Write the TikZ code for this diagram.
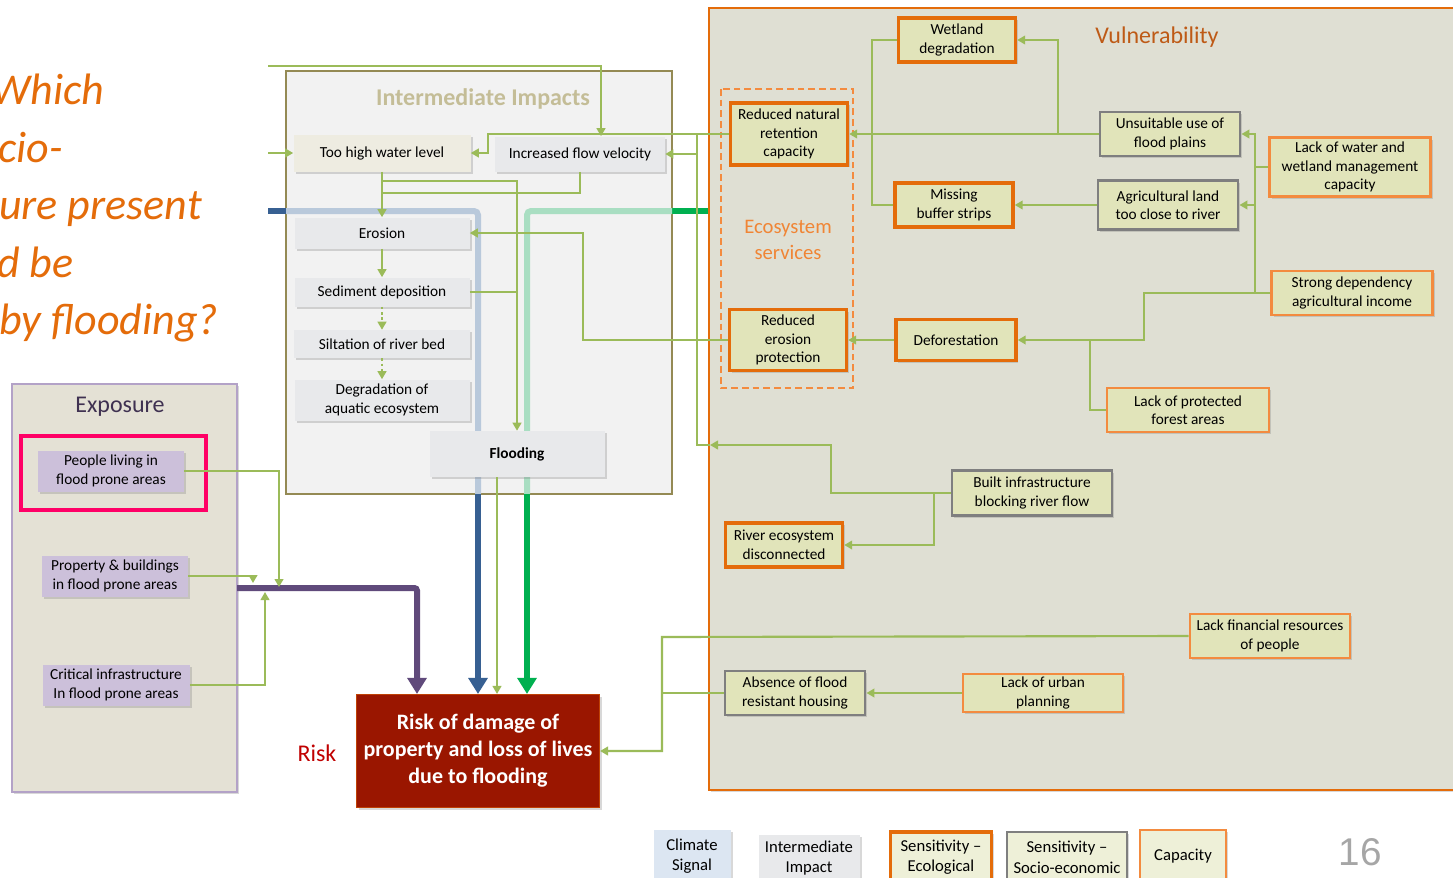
\documentclass[tikz,border=0pt]{standalone}
\usepackage{fontspec}
\setmainfont{Carlito}
\newfontfamily\slidenumfont{Liberation Sans}
\usetikzlibrary{arrows.meta,shadows}

\definecolor{linkgreen}{HTML}{9BBB59}
\definecolor{impactolive}{HTML}{948A54}
\definecolor{impactbg}{HTML}{F2F2F2}
\definecolor{impacttitle}{HTML}{C4BD97}
\definecolor{impactgray}{HTML}{E8E9EB}
\definecolor{waterbeige}{HTML}{EEECE1}
\definecolor{vulnbg}{HTML}{DFDFD3}
\definecolor{vulnfill}{HTML}{E1E4BA}
\definecolor{ecoorange}{HTML}{E46C0A}
\definecolor{caporange}{HTML}{F38B3F}
\definecolor{socgray}{HTML}{7F7F7F}
\definecolor{vulntitle}{HTML}{BE5A16}
\definecolor{servicesorange}{HTML}{F08535}
\definecolor{expobg}{HTML}{E4E1D5}
\definecolor{expoborder}{HTML}{B3A2C7}
\definecolor{expotitle}{HTML}{3F3151}
\definecolor{expolilac}{HTML}{CCC0DA}
\definecolor{highlightpink}{HTML}{FF0066}
\definecolor{riskred}{HTML}{9A1600}
\definecolor{risklabel}{HTML}{C00000}
\definecolor{climatedark}{HTML}{376092}
\definecolor{climatelight}{HTML}{B9C9DB}
\definecolor{ecodark}{HTML}{00B050}
\definecolor{ecolight}{HTML}{A9DEC2}
\definecolor{expopurple}{HTML}{604A7B}
\definecolor{questionorange}{HTML}{E46C0A}
\definecolor{climatefill}{HTML}{DCE6F2}
\definecolor{legendfill}{HTML}{EEF0D8}
\definecolor{pagegray}{HTML}{A6A6A6}

\begin{document}
\begin{tikzpicture}[x=0.75pt, y=-0.75pt,
  every node/.style={font=\fontsize{11.5}{13.9}\selectfont, align=center, inner sep=0pt},
  boxsize/.style 2 args={minimum width=#1*0.75pt, minimum height=#2*0.75pt},
  softshadow/.style={drop shadow={opacity=0.3, shadow xshift=1.8pt, shadow yshift=-1.8pt}},
  impactbox/.style={fill=impactgray, softshadow},
  ecobox/.style={fill=vulnfill, draw=ecoorange, line width=2.6pt, softshadow},
  socbox/.style={fill=vulnfill, draw=socgray, line width=2.2pt, softshadow},
  capbox/.style={fill=vulnfill, draw=caporange, line width=2.2pt, softshadow},
  expobox/.style={fill=expolilac, softshadow},
  legendtext/.style={font=\fontsize{12.5}{15.5}\selectfont},
  question/.style={anchor=base west, text=questionorange, font=\itshape\fontsize{33}{43}\selectfont},
  link/.style={draw=linkgreen, line width=1.6pt},
  conn/.style={link, -{Triangle[length=6pt, width=6.5pt]}},
  dotconn/.style={conn, dash pattern=on 2pt off 2pt},
  bigarrow/.style={line width=4.5pt, rounded corners=2pt, -{Triangle[length=12pt, width=14pt]}}]

  \fill[white] (0,0) rectangle (1453,878);
  \useasboundingbox (0,0) rectangle (1453,878);

  \node[question] (qline1) at (-9,104) {Which};
  \node[question] (qline2) at (-2,162) {cio-};
  \node[question] (qline3) at (-1,219) {ure present};
  \node[question] (qline4) at (-3,277) {d be};
  \node[question] (qline5) at (-1,334) {by flooding?};

  \draw[draw=expoborder, fill=expobg, line width=1.2pt, softshadow] (12,384) rectangle (237,792);
  \node[text=expotitle, font=\fontsize{18}{21}\selectfont] (expotitle) at (120,407) {Exposure};

  \draw[draw=impactolive, fill=impactbg, line width=2.2pt] (286,71) rectangle (672,494);
  \node[text=impacttitle, font=\bfseries\fontsize{18}{21}\selectfont] (impacttitle) at (483,99) {Intermediate Impacts};

  \draw[draw=ecoorange, fill=vulnbg, line width=1.2pt, softshadow] (709,8) rectangle (1475,790);
  \node[text=vulntitle, font=\fontsize{18}{21}\selectfont] (vulntitle) at (1157,37) {Vulnerability};
  \draw[draw=caporange, line width=2pt, dash pattern=on 5pt off 3pt] (721,89) rectangle (853,388);
  \node[text=servicesorange, font=\fontsize{15.5}{19}\selectfont] (services) at (788,240) {Ecosystem\\services};

  \node[fill=riskred, draw=ecoorange!50!riskred, line width=0.8pt, boxsize={243}{113}, text=white,
        font=\bfseries\fontsize{16.5}{20.25}\selectfont, softshadow] (risk) at (478,751)
        {Risk of damage of\\property and loss of lives\\due to flooding};
  \node[text=risklabel, font=\fontsize{18}{21}\selectfont] (risklabel) at (317,753) {Risk};

  \coordinate (bluestart) at (268,211);
  \coordinate (blueentry) at (286,211);
  \coordinate (bluebend) at (478,494);
  \coordinate (greenstart) at (708,211);
  \coordinate (greenentry) at (672,211);
  \coordinate (greenbend) at (527,494);
  \coordinate (purplestart) at (237,588);
  \coordinate (purpledrop) at (417,588);
  \draw[climatedark, line width=4.5pt] (bluestart) -- (blueentry);
  \draw[climatelight, line width=4.5pt, rounded corners=3pt] (blueentry) -| (bluebend);
  \draw[climatedark, bigarrow] (bluebend) -- (bluebend |- risk.north);
  \draw[ecodark, line width=4.5pt] (greenstart) -- (greenentry);
  \draw[ecolight, line width=4.5pt, rounded corners=3pt] (greenentry) -| (greenbend);
  \draw[ecodark, bigarrow] (greenbend) -- (greenbend |- risk.north);
  \draw[expopurple, bigarrow] (purplestart) -- (purpledrop) -- (purpledrop |- risk.north);

  \node[impactbox, fill=waterbeige, boxsize={177}{37}] (toohigh) at (382,153) {Too high water level};
  \node[impactbox, boxsize={170}{35}] (increased) at (580,154) {Increased flow velocity};
  \node[impactbox, boxsize={175}{31}] (erosion) at (382,233) {Erosion};
  \node[impactbox, boxsize={175}{29}] (sediment) at (382,292) {Sediment deposition};
  \node[impactbox, boxsize={176}{28}] (siltation) at (382,344) {Siltation of river bed};
  \node[impactbox, boxsize={175}{41}] (degradation) at (382,400) {Degradation of\\aquatic ecosystem};
  \node[impactbox, boxsize={175}{46}, font=\bfseries\fontsize{11.5}{13.9}\selectfont] (flooding) at (517,454) {Flooding};

  \node[ecobox, boxsize={117}{62}] (retention) at (789,134) {Reduced natural\\retention\\capacity};
  \node[ecobox, boxsize={117}{61}] (erosionprot) at (788,340) {Reduced\\erosion\\protection};
  \node[ecobox, boxsize={117}{44}] (wetland) at (957,40) {Wetland\\degradation};
  \node[ecobox, boxsize={118}{44}] (buffer) at (954,205) {Missing\\buffer strips};
  \node[ecobox, boxsize={120}{41}] (deforest) at (956,340) {Deforestation};
  \node[socbox, boxsize={140}{44}] (unsuitable) at (1170,134) {Unsuitable use of\\flood plains};
  \node[socbox, boxsize={140}{49}] (agri) at (1168,205) {Agricultural land\\too close to river};
  \node[capbox, boxsize={161}{59}] (lackwater) at (1350,167) {Lack of water and\\wetland management\\capacity};
  \node[capbox, boxsize={161}{44}] (strongdep) at (1352,293) {Strong dependency\\agricultural income};
  \node[capbox, boxsize={162}{44}] (forest) at (1188,410) {Lack of protected\\forest areas};
  \node[socbox, boxsize={160}{45}] (built) at (1032,493) {Built infrastructure\\blocking river flow};
  \node[ecobox, boxsize={117}{44}] (riverdisc) at (784,545) {River ecosystem\\disconnected};
  \node[capbox, boxsize={160}{44}] (financial) at (1270,636) {Lack financial resources\\of people};
  \node[socbox, boxsize={140}{44}] (absence) at (795,693) {Absence of flood\\resistant housing};
  \node[capbox, boxsize={160}{38}] (urban) at (1043,693) {Lack of urban\\planning};

  \node[expobox, boxsize={146}{41}] (people) at (111,471) {People living in\\flood prone areas};
  \node[expobox, boxsize={146}{41}] (property) at (115,576) {Property \& buildings\\in flood prone areas};
  \node[expobox, boxsize={147}{41}] (critical) at (116,685) {Critical infrastructure\\In flood prone areas};
  \draw[highlightpink, line width=3.2pt] (21,436) rectangle (206,510);

  \coordinate (topfeed) at (268,66);
  \coordinate (sidefeed) at (268,153);
  \coordinate (velin) at ([xshift=15.75pt]increased.north);
  \coordinate (retbend) at (488,134);
  \coordinate (velbus) at (697,134);
  \coordinate (builtbend) at (831,445);
  \coordinate (vulnedge) at (710,445);
  \coordinate (riverbend) at (934,493);
  \coordinate (erobus) at (583,233);
  \coordinate (floodbus) at (517,181);
  \coordinate (erojoin) at (382,193);
  \coordinate (floodout) at ([xshift=-15pt]flooding.south);
  \draw[conn] (topfeed) -| (velin);
  \draw[conn] (sidefeed) -- (toohigh.west);
  \draw[conn] (retention.west) -- (retbend) |- (toohigh.east);
  \draw[conn] (velbus) |- (increased.east);
  \draw[conn] (built.west) -| (builtbend) -- (vulnedge);
  \draw[link] (vulnedge) -| (velbus);
  \draw[conn] (riverbend) |- (riverdisc.east);
  \draw[conn] (erosionprot.west) -| (erobus) -- (erosion.east);
  \draw[conn] (toohigh.south) -- (erosion.north);
  \draw[conn] (toohigh.south |- floodbus) -| (flooding.north);
  \draw[link] (increased.south) |- (erojoin);
  \draw[link] (sediment.east) -- (sediment.east -| flooding.north);
  \draw[conn] (erosion.south) -- (sediment.north);
  \draw[dotconn] (sediment.south) -- (siltation.north);
  \draw[dotconn] (siltation.south) -- (degradation.north);
  \draw[conn] (floodout) -- (floodout |- risk.north);

  \coordinate (wetbus) at (1058,134);
  \coordinate (bufbus) at (872,134);
  \coordinate (capbus) at (1255,167);
  \coordinate (forestbend) at (1144,293);
  \coordinate (forestjoin) at (1090,340);
  \coordinate (riskbus) at (662,637);
  \draw[conn] (unsuitable.west) -- (retention.east);
  \draw[conn] (wetbus) |- (wetland.east);
  \draw[link] (wetland.west) -| (bufbus) |- (buffer.west);
  \draw[conn] (agri.west) -- (buffer.east);
  \draw[conn] (lackwater.west) -- (capbus) |- (unsuitable.east);
  \draw[conn] (capbus) |- (agri.east);
  \draw[link] (strongdep.west) -| (capbus);
  \draw[conn] (strongdep.west) -- (forestbend) |- (deforest.east);
  \draw[link] (forest.west) -| (forestjoin);
  \draw[conn] (deforest.west) -- (erosionprot.east);
  \draw[conn] (urban.west) -- (absence.east);
  \draw[conn] (financial.west) -- (riskbus) |- (risk.east);
  \draw[link] (absence.west) -- (absence.west -| riskbus);

  \coordinate (peopledrop) at (279,587);
  \coordinate (propdrop) at (253,583);
  \coordinate (critrise) at (265,592);
  \draw[conn] (people.east) -| (peopledrop);
  \draw[conn] (property.east) -| (propdrop);
  \draw[conn] (critical.east) -| (critrise);

  \node[fill=climatefill, boxsize={77}{52}, legendtext, softshadow] (legclimate) at (692,856) {Climate\\Signal};
  \node[fill=impactgray, boxsize={101}{46}, legendtext, softshadow] (legimpact) at (809,858) {Intermediate\\Impact};
  \node[fill=legendfill, draw=ecoorange, line width=2.6pt, boxsize={101}{50}, legendtext, softshadow] (legeco) at (941,857) {Sensitivity --\\Ecological};
  \node[fill=legendfill, draw=socgray, line width=2.2pt, boxsize={120}{50}, legendtext, softshadow] (legsocio) at (1067,857) {Sensitivity --\\Socio-economic};
  \node[fill=legendfill, draw=caporange, line width=2.2pt, boxsize={86}{52}, legendtext, softshadow] (legcap) at (1183,856) {Capacity};
  \node[text=pagegray, font=\slidenumfont\fontsize{29}{32}\selectfont] (pagenum) at (1360,852) {16};
\end{tikzpicture}
\end{document}
